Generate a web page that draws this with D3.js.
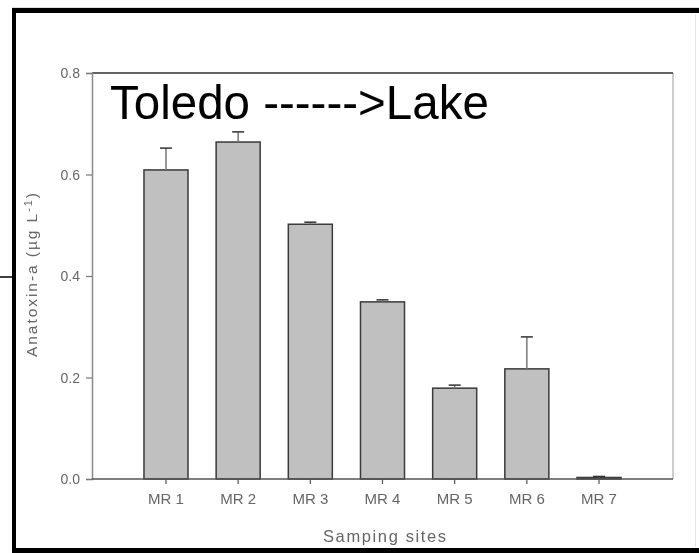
<!DOCTYPE html>
<html>
<head>
<meta charset="utf-8">
<script src="https://cdn.jsdelivr.net/npm/d3@7"></script>
<style>
  html, body { margin: 0; padding: 0; background: #fff; }
  svg { display: block; }
</style>
</head>
<body>
<script>
// Anatoxin-a concentration at each sampling site, with standard deviation
const sites = ["MR 1", "MR 2", "MR 3", "MR 4", "MR 5", "MR 6", "MR 7"];
const values = [0.609, 0.664, 0.502, 0.349, 0.179, 0.217, 0.003];
const errors = [0.043, 0.020, 0.004, 0.004, 0.006, 0.063, 0.002];
const yTicks = [0.0, 0.2, 0.4, 0.6, 0.8];

const W = 699, H = 553;
const svg = d3.select("body").append("svg").attr("width", W).attr("height", H);

const defs = svg.append("defs");
defs.append("filter").attr("id", "soft")
  .append("feGaussianBlur").attr("stdDeviation", 0.45);

// Outer black frame (left, top, bottom)
svg.append("line").attr("x1", 12).attr("x2", W).attr("y1", 8).attr("y2", 8)
  .attr("stroke", "#bbb").attr("stroke-width", 1);
svg.append("rect").attr("x", 12).attr("y", 8).attr("width", W - 12).attr("height", 5).attr("fill", "#000");
svg.append("rect").attr("x", 12).attr("y", 8).attr("width", 4).attr("height", H - 8).attr("fill", "#000");
svg.append("rect").attr("x", 12).attr("y", 548).attr("width", W - 12).attr("height", 5).attr("fill", "#000");
svg.append("line").attr("x1", 0).attr("x2", 12).attr("y1", 277).attr("y2", 277)
  .attr("stroke", "#000").attr("stroke-width", 1.5);
svg.append("line").attr("x1", 695.5).attr("x2", 695.5).attr("y1", 14).attr("y2", 547)
  .attr("stroke", "#e4e4e4").attr("stroke-width", 1);

const plotL = 92, plotR = 673, plotT = 73, plotB = 479;

const x = d3.scaleBand().domain(sites).range([plotL, plotR])
  .paddingInner(0.39).paddingOuter(0.72);
const y = d3.scaleLinear().domain([0, 0.8]).range([plotB, plotT]);

const chart = svg.append("g").attr("filter", "url(#soft)");

// Plot frame
chart.append("line").attr("x1", plotR).attr("x2", plotR).attr("y1", plotT).attr("y2", plotB)
  .attr("stroke", "#bdbdbd").attr("stroke-width", 1.5);
chart.append("line").attr("x1", plotL).attr("x2", plotR).attr("y1", plotT).attr("y2", plotT)
  .attr("stroke", "#333").attr("stroke-width", 1.5);

// Bars
chart.selectAll("rect.bar").data(sites).join("rect")
  .attr("class", "bar")
  .attr("x", d => x(d))
  .attr("width", x.bandwidth())
  .attr("y", (d, i) => y(values[i]))
  .attr("height", (d, i) => y(0) - y(values[i]))
  .attr("fill", "#c0c0c0")
  .attr("stroke", "#3a3a3a")
  .attr("stroke-width", 1.5);

// Error bars
const eb = chart.selectAll("g.err").data(sites).join("g").attr("class", "err");
eb.append("line")
  .attr("x1", d => x(d) + x.bandwidth() / 2).attr("x2", d => x(d) + x.bandwidth() / 2)
  .attr("y1", (d, i) => y(values[i])).attr("y2", (d, i) => y(values[i] + errors[i]))
  .attr("stroke", "#777").attr("stroke-width", 1.5);
eb.append("line")
  .attr("x1", d => x(d) + x.bandwidth() / 2 - 6).attr("x2", d => x(d) + x.bandwidth() / 2 + 6)
  .attr("y1", (d, i) => y(values[i] + errors[i])).attr("y2", (d, i) => y(values[i] + errors[i]))
  .attr("stroke", "#333").attr("stroke-width", 1.5);

const font = "'Liberation Sans', Arial, sans-serif";

// Y axis
const yAxis = chart.append("g").attr("transform", `translate(${plotL},0)`)
  .call(d3.axisLeft(y).tickValues(yTicks).tickFormat(d3.format(".1f")).tickSize(6).tickPadding(6));
yAxis.select(".domain").attr("stroke", "#8a8a8a").attr("stroke-width", 1.5);
yAxis.selectAll(".tick line").attr("stroke", "#777").attr("stroke-width", 1.2);
yAxis.selectAll(".tick text")
  .attr("fill", "#666").style("font-family", font)
  .style("font-size", "14px").attr("dy", "0.35em");

// X axis
const xAxis = chart.append("g").attr("transform", `translate(0,${plotB})`)
  .call(d3.axisBottom(x).tickSize(5).tickPadding(9).tickSizeOuter(0));
xAxis.select(".domain").attr("stroke", "#555").attr("stroke-width", 1.5)
  .attr("d", `M${plotL},0H${plotR}`);
xAxis.selectAll(".tick line").attr("stroke", "#555").attr("stroke-width", 1.2);
xAxis.selectAll(".tick text")
  .attr("fill", "#666").style("font-family", font)
  .style("font-size", "15px");

// Axis titles
chart.append("text")
  .attr("x", (plotL + plotR) / 2 + 2).attr("y", 542)
  .attr("text-anchor", "middle")
  .attr("fill", "#666")
  .style("font-family", font)
  .style("font-size", "16.5px")
  .attr("textLength", 123).attr("lengthAdjust", "spacing")
  .text("Samping sites");

const yt = chart.append("text")
  .attr("transform", "translate(37,275) rotate(-90)")
  .attr("text-anchor", "middle")
  .attr("fill", "#666")
  .style("font-family", font)
  .style("font-size", "15.5px")
  .attr("textLength", 164).attr("lengthAdjust", "spacing");
yt.append("tspan").text("Anatoxin-a (µg L");
yt.append("tspan").attr("dy", -5).style("font-size", "11px").text("-1");
yt.append("tspan").attr("dy", 5).text(")");

// Direction annotation
svg.append("text")
  .attr("x", 110).attr("y", 119)
  .attr("fill", "#000")
  .style("font-family", font)
  .style("font-size", "47.5px")
  .text("Toledo ------>Lake");
</script>
</body>
</html>
